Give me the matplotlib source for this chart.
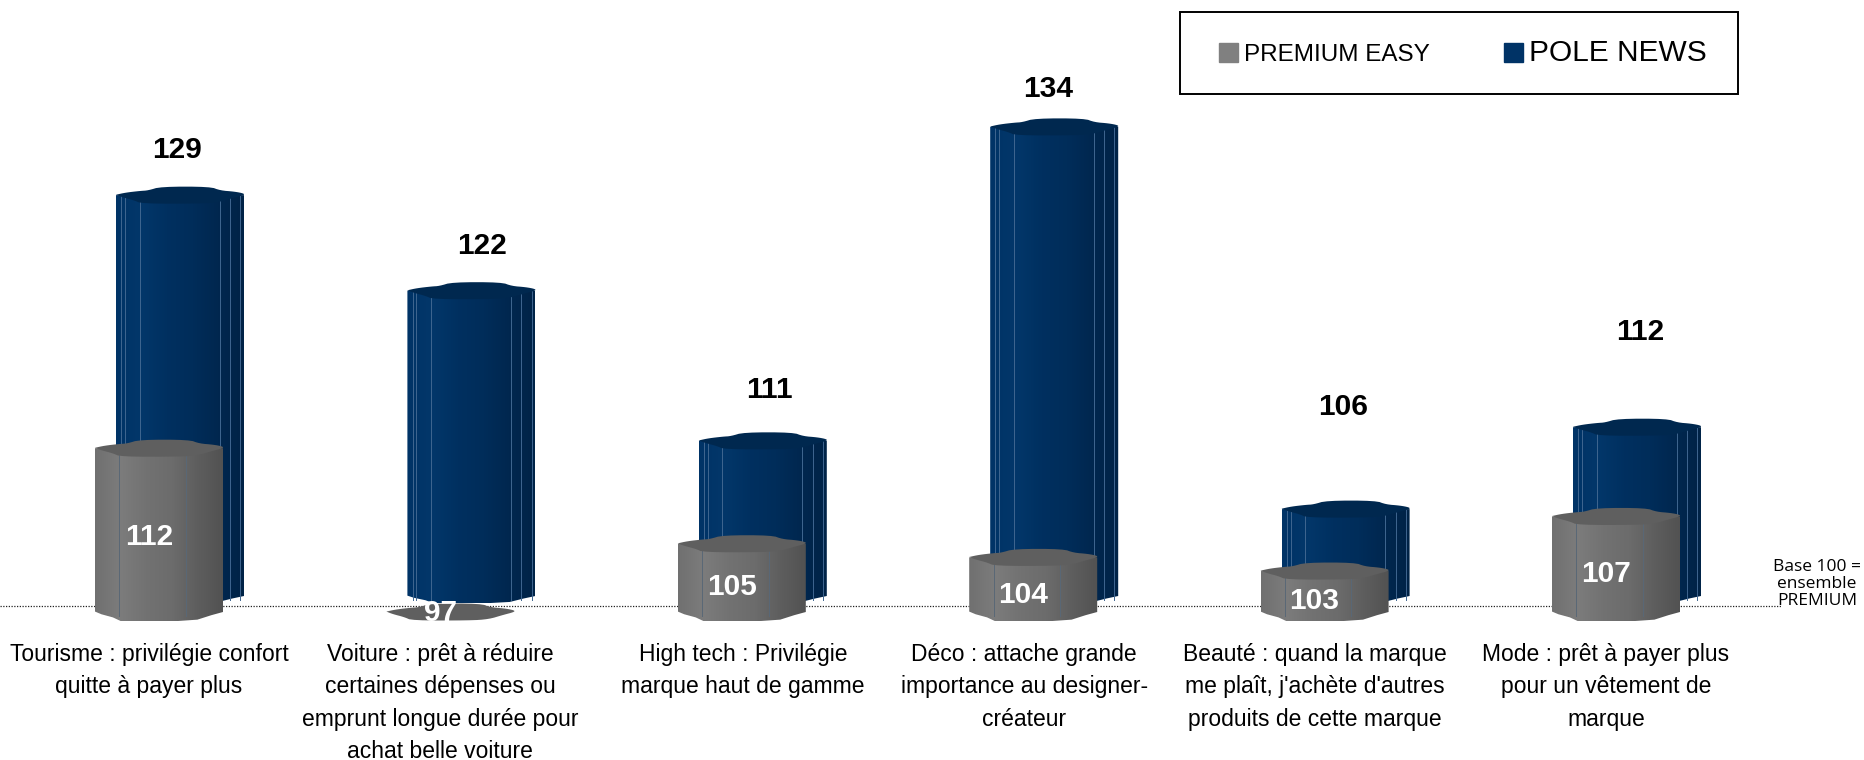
import numpy as np
import matplotlib
matplotlib.use('Agg')
import matplotlib.pyplot as plt
from matplotlib.patches import Polygon, Rectangle
from matplotlib.colors import LinearSegmentedColormap

plt.rcParams['font.family'] = ['Liberation Sans', 'DejaVu Sans']

categories = [
    "Tourisme : privilégie confort\nquitte à payer plus",
    "Voiture : prêt à réduire\ncertaines dépenses ou\nemprunt longue durée pour\nachat belle voiture",
    "High tech : Privilégie\nmarque haut de gamme",
    "Déco : attache grande\nimportance au designer-\ncréateur",
    "Beauté : quand la marque\nme plaît, j'achète d'autres\nproduits de cette marque",
    "Mode : prêt à payer plus\npour un vêtement de\nmarque",
]
premium_easy = [112, 97, 105, 104, 103, 107]
pole_news = [129, 122, 111, 134, 106, 112]

# offsets of the labels (pixels), they were placed by hand in the original
news_label_dx = [-3, 11, 7, -6, -2, 3]
news_label_dy = [45, 45, 51, 38, 102, 95]
easy_label_dy = [-28, -22, -30, -31, -30, -31]
category_dx = [0, 0, 11, 1, 0, 0]

W, H = 1865, 760
BASE_PX = 591       # y pixel of value 100 for the back series
PX_PER_VALUE = 13.65
FIRST_PX = 180
STEP_PX = 291.4
BAR_W = 128 / STEP_PX
CAP_H = 8.5 / PX_PER_VALUE
DX = 1 / STEP_PX
DY = 1 / PX_PER_VALUE

# outline of the scalloped cap, unit coordinates
cap_top = [(-1, 0.05), (-0.85, 0.3), (-0.62, 0.5), (-0.5, 0.55), (-0.3, 1), (0.47, 1),
           (0.63, 0.55), (0.85, 0.42), (1, 0.2)]
cap_low = [(1, 0.0), (0.82, -0.35), (0.6, -0.85), (0.3, -1), (-0.6, -1), (-0.72, -0.6),
           (-0.9, -0.25), (-1, 0.05)]


def smooth(points, rounds=2):
    # corner cutting, keeps the scallops but removes the sharp corners
    pts = np.array(points, dtype=float)
    for _ in range(rounds):
        nxt = np.roll(pts, -1, axis=0)
        pts = np.column_stack([0.75 * pts + 0.25 * nxt, 0.25 * pts + 0.75 * nxt]).reshape(-1, 2)
    return pts


cap_shape = smooth(cap_top + cap_low)
low_shape = np.array(cap_low)

navy_cmap = LinearSegmentedColormap.from_list('navy', ['#003366', '#03376a', '#003060', '#002d5a', '#00274f', '#002347'])
grey_cmap = LinearSegmentedColormap.from_list('grey', ['#707070', '#7c7c7c', '#727272', '#6c6c6c', '#5e5e5e', '#525252'])
gradient = np.linspace(0, 1, 256).reshape(1, -1)


def draw_bar(ax, x, value, offset, low_offset, low_h, cmap, cap_color, lines, line_color, zorder):
    base = 100 + offset
    top = max(value, 100) + offset
    left, right = x - BAR_W / 2, x + BAR_W / 2

    # flat disc when the value is under the base
    if value > 100:
        low = low_shape * [BAR_W / 2, low_h] + [x, base + low_offset]
        body = np.vstack([[[left, top], [right, top]], low])
        im = ax.imshow(gradient, cmap=cmap, extent=[left, right, base - 2, top], aspect='auto', zorder=zorder)
        clip = Polygon(body, closed=True, transform=ax.transData)
        im.set_clip_path(clip)
        for frac in lines:
            xl = left + frac * BAR_W
            ax.plot([xl, xl], [base + low_offset - 0.3, top], color=line_color, lw=0.7, zorder=zorder + 0.1)

    cap = cap_shape * [BAR_W / 2, CAP_H] + [x, top]
    ax.add_patch(Polygon(cap, closed=True, facecolor=cap_color, edgecolor='none', zorder=zorder + 0.2))


fig = plt.figure(figsize=(W / 100, H / 100), dpi=100)
ax = fig.add_axes([0, 0, 1, 1])
ax.set_autoscale_on(False)
ax.set_xlim(-FIRST_PX / STEP_PX, (W - FIRST_PX) / STEP_PX)
ax.set_ylim(100 - (H - BASE_PX) * DY, 100 + BASE_PX * DY)
ax.axis('off')

x_pos = np.arange(len(categories))

# ligne de base
ax.plot([ax.get_xlim()[0], (1782 - FIRST_PX) * DX], [100 - 15 * DY] * 2, color='#222222', lw=0.9,
        linestyle=(0, (1, 1.2)), zorder=1)

for i in x_pos:
    draw_bar(ax, i, pole_news[i], 0, -5 * DY, 7 * DY, navy_cmap, '#00284f', [0.04, 0.07, 0.185, 0.81, 0.89, 0.97],
             '#3f6690', 2)
    ax.text(i + news_label_dx[i] * DX, pole_news[i] + news_label_dy[i] * DY, str(pole_news[i]), ha='center',
            va='center', fontsize=21.5, fontweight='bold', color='black', zorder=10)

    gx = i - 21 * DX
    draw_bar(ax, gx, premium_easy[i], -21 * DY, 0, 9 * DY, grey_cmap, '#5f5f5f', [0.19, 0.71], '#596876', 4)
    mid = (100 + max(premium_easy[i], 100)) / 2 + easy_label_dy[i] * DY
    ax.text(gx - 10 * DX, mid, str(premium_easy[i]), ha='center', va='center', fontsize=21.5, fontweight='bold',
            color='white', zorder=10)

    ax.text(gx + (category_dx[i] - 10) * DX, 100 - 52 * DY, categories[i], ha='center', va='top', fontsize=16.5,
            linespacing=1.52, color='black', zorder=10)

ax.text((1817 - FIRST_PX) * DX, 100 + 7 * DY, "Base 100 =\nensemble\nPREMIUM", ha='center', va='center',
        fontsize=12.5, family='Open Sans', linespacing=1.07, color='black', zorder=10)

# cadre de la légende
ax.add_patch(Rectangle(((1180 - FIRST_PX) * DX, 100 + (BASE_PX - 94) * DY), 558 * DX, 82 * DY, facecolor='white',
                       edgecolor='black', lw=1.4, zorder=5))

handles = [Rectangle((0, 0), 1, 1, color='#808080'), Rectangle((0, 0), 1, 1, color='#003366')]
leg = fig.legend(handles, ['PREMIUM EASY', 'POLE NEWS'], ncol=2, loc='center', bbox_to_anchor=(1463 / W, 1 - 53 / H),
                 frameon=False, fontsize=17.5, handlelength=0.78, handleheight=0.86,
                 handletextpad=0.25, columnspacing=3.05, borderpad=0, borderaxespad=0)
leg.get_texts()[1].set_fontsize(21.5)

fig.savefig('out.png', dpi=100)
